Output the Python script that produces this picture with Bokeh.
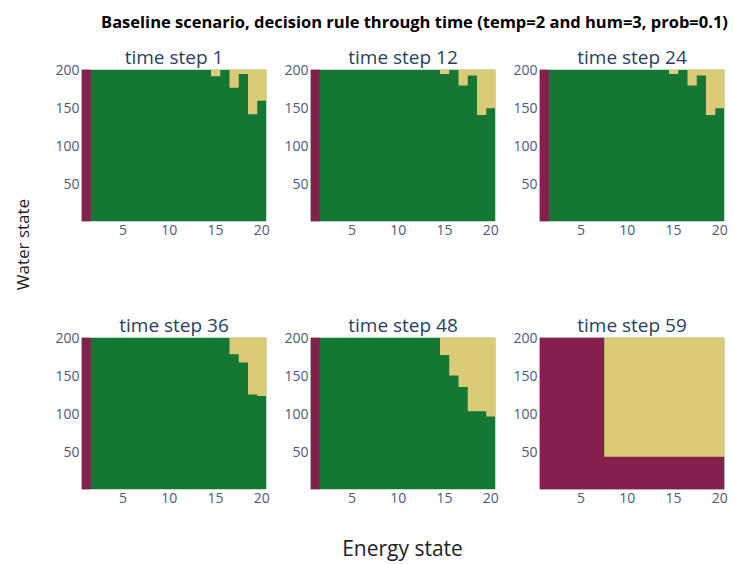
import math
from bokeh.plotting import figure
from bokeh.models import Range1d, FixedTicker, Label
from bokeh.layouts import row, column
from bokeh.embed import file_html
from bokeh.resources import INLINE

# ---------------- data ----------------
title_text = "Baseline scenario, decision rule through time (temp=2 and hum=3, prob=0.1)"
x_label = "Energy state"
y_label = "Water state"

energy_states = [1, 2, 3, 4, 5, 6, 7, 8, 9, 10, 11, 12, 13, 14, 15, 16, 17, 18, 19, 20]
n_water = 200
time_steps = [1, 12, 24, 36, 48, 59]
x_ticks = [5, 10, 15, 20]
y_ticks = [50, 100, 150, 200]

# highest water state with decision "maroon" (0 = none), per energy state
red_upto_t1  = [200, 0, 0, 0, 0, 0, 0, 0, 0, 0, 0, 0, 0, 0, 0, 0, 0, 0, 0, 0]
red_upto_t12 = [200, 0, 0, 0, 0, 0, 0, 0, 0, 0, 0, 0, 0, 0, 0, 0, 0, 0, 0, 0]
red_upto_t24 = [200, 0, 0, 0, 0, 0, 0, 0, 0, 0, 0, 0, 0, 0, 0, 0, 0, 0, 0, 0]
red_upto_t36 = [200, 0, 0, 0, 0, 0, 0, 0, 0, 0, 0, 0, 0, 0, 0, 0, 0, 0, 0, 0]
red_upto_t48 = [200, 0, 0, 0, 0, 0, 0, 0, 0, 0, 0, 0, 0, 0, 0, 0, 0, 0, 0, 0]
red_upto_t59 = [200, 200, 200, 200, 200, 200, 200, 43, 43, 43, 43, 43, 43, 43, 43, 43, 43, 43, 43, 43]

# lowest water state with decision "yellow" (None = none), per energy state
yellow_from_t1  = [None, None, None, None, None, None, None, None, None, None, None, None, None, None, 192, None, 177, 195, 142, 160]
yellow_from_t12 = [None, None, None, None, None, None, None, None, None, None, None, None, None, None, 195, None, 180, 193, 141, 150]
yellow_from_t24 = [None, None, None, None, None, None, None, None, None, None, None, None, None, None, 195, None, 180, 193, 141, 150]
yellow_from_t36 = [None, None, None, None, None, None, None, None, None, None, None, None, None, None, None, None, 179, 168, 126, 124]
yellow_from_t48 = [None, None, None, None, None, None, None, None, None, None, None, None, None, None, 178, 151, 136, 104, 104, 97]
yellow_from_t59 = [None, None, None, None, None, None, None, 44, 44, 44, 44, 44, 44, 44, 44, 44, 44, 44, 44, 44]

red_upto = [red_upto_t1, red_upto_t12, red_upto_t24, red_upto_t36, red_upto_t48, red_upto_t59]
yellow_from = [yellow_from_t1, yellow_from_t12, yellow_from_t24, yellow_from_t36, yellow_from_t48, yellow_from_t59]

# ---------------- style ----------------
MAROON = "#861f4e"
GREEN = "#147733"
YELLOW = "#dbcb77"
TICK_COLOR = "#4a5a7c"
SUB_COLOR = "#2a3f5f"
FONT = "Open Sans"

FW, FH = 185, 152
L, T = 34, 31
R_INNER, R_LAST = 10, 8
B_TOP, B_BOTTOM = 85, 22
YLAB_W = 47
HEAD_H = 38
FOOT_H = 53
TOTAL_W = YLAB_W + 2 * (L + FW + R_INNER) + (L + FW + R_LAST)

LO, HI = 0.5, n_water + 0.5


def runs(vals, present):
    out, cur = [], []
    for e, v in zip(energy_states, vals):
        if present(v):
            cur.append((e, v))
        elif cur:
            out.append(cur)
            cur = []
    if cur:
        out.append(cur)
    return out


def step_patches(vals, present, level, base):
    xs, ys = [], []
    for run in runs(vals, present):
        px = [run[0][0] - 0.5]
        py = [base]
        for e, v in run:
            px += [e - 0.5, e + 0.5]
            py += [level(v), level(v)]
        px.append(run[-1][0] + 0.5)
        py.append(base)
        xs.append(px)
        ys.append(py)
    return xs, ys


def make_panel(i, col, row_idx):
    right = R_LAST if col == 2 else R_INNER
    bottom = B_TOP if row_idx == 0 else B_BOTTOM
    x0, x1 = min(energy_states) - 0.5, max(energy_states) + 0.5
    p = figure(width=L + FW + right, height=T + FH + bottom,
               x_range=Range1d(x0, x1), y_range=Range1d(LO, HI),
               output_backend="svg", toolbar_location=None,
               min_border_left=L, min_border_right=right,
               min_border_top=T, min_border_bottom=bottom,
               title="time step %d" % time_steps[i])
    p.title.align = "center"
    p.title.text_font = FONT
    p.title.text_font_size = "19px"
    p.title.text_font_style = "normal"
    p.title.text_color = SUB_COLOR
    p.title.standoff = 0
    # green everywhere, then maroon (bottom-anchored) and yellow (top-anchored) regions
    p.quad(left=[x0], right=[x1], bottom=[LO], top=[HI], fill_color=GREEN, line_color=None)
    rx, ry = step_patches(red_upto[i], lambda v: v > 0, lambda v: v + 0.5, LO)
    if rx:
        p.patches(xs=rx, ys=ry, fill_color=MAROON, line_color=None)
    yx, yy = step_patches(yellow_from[i], lambda v: v is not None, lambda v: v - 0.5, HI)
    if yx:
        p.patches(xs=yx, ys=yy, fill_color=YELLOW, line_color=None)
    p.grid.visible = False
    p.outline_line_color = None
    p.xaxis.ticker = FixedTicker(ticks=x_ticks)
    p.yaxis.ticker = FixedTicker(ticks=y_ticks)
    for ax in (p.xaxis, p.yaxis):
        ax.axis_line_color = None
        ax.major_tick_line_color = None
        ax.minor_tick_line_color = None
        ax.major_tick_out = 0
        ax.major_tick_in = 0
        ax.minor_tick_out = 0
        ax.major_label_text_font = FONT
        ax.major_label_text_font_size = "14px"
        ax.major_label_text_color = TICK_COLOR
    p.xaxis.major_label_standoff = 3
    p.yaxis.major_label_standoff = 2
    return p


def blank(w, h):
    f = figure(width=w, height=h, x_range=Range1d(0, w), y_range=Range1d(0, h),
               x_axis_type=None, y_axis_type=None, output_backend="svg",
               toolbar_location=None, min_border=0)
    f.grid.visible = False
    f.outline_line_color = None
    return f


panels = [make_panel(i, i % 3, i // 3) for i in range(6)]
row1 = row(panels[0:3], spacing=0)
row2 = row(panels[3:6], spacing=0)
grid_h = (T + FH + B_TOP) + (T + FH + B_BOTTOM)

head = blank(TOTAL_W, HEAD_H)
head.add_layout(Label(x=414, y=HEAD_H - 21, text=title_text, text_align="center",
                      text_baseline="middle", text_font=FONT,
                      text_font_size="16.5px", text_font_style="bold",
                      text_color="#000000"))

ylab = blank(YLAB_W, grid_h)
ylab.add_layout(Label(x=22, y=grid_h - (244 - HEAD_H), text=y_label, angle=math.pi / 2,
                      text_align="center", text_baseline="middle",
                      text_font=FONT, text_font_size="17px", text_color="#222222"))

foot = blank(TOTAL_W, FOOT_H)
foot.add_layout(Label(x=402, y=17, text=x_label, text_align="center",
                      text_baseline="middle", text_font=FONT,
                      text_font_size="21px", text_color="#222222"))

layout = column(head, row(ylab, column(row1, row2, spacing=0), spacing=0), foot, spacing=0)

open("out.html", "w").write(file_html(layout, INLINE))
